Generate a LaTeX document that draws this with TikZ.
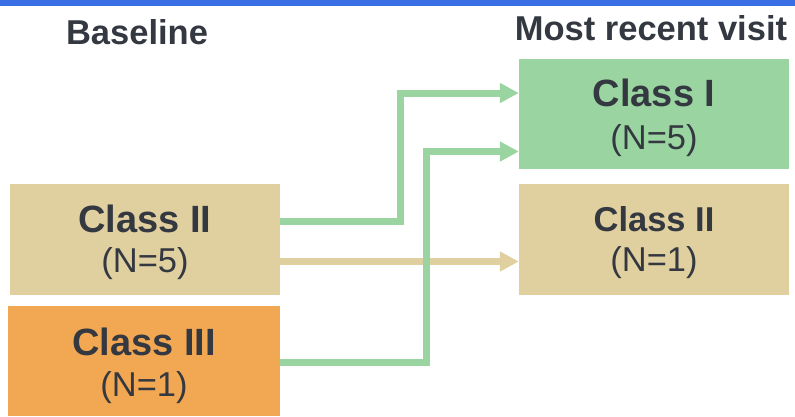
\documentclass[tikz,border=0pt]{standalone}
\usepackage{fontspec}
\setmainfont{Liberation Sans}
\usetikzlibrary{arrows.meta}
\definecolor{topblue}{RGB}{58,110,228}
\definecolor{boxgreen}{RGB}{154,212,160}
\definecolor{boxtan}{RGB}{224,208,160}
\definecolor{boxorange}{RGB}{242,168,82}
\definecolor{txt}{RGB}{52,56,64}
\tikzset{
  box/.style={draw=none, minimum width=270pt, inner sep=0pt},
  head/.style={text=txt, font=\fontsize{34.5}{40}\selectfont\bfseries, inner sep=0pt},
  big/.style={text=txt, font=\fontsize{38}{44}\selectfont\bfseries, inner sep=0pt},
  mid/.style={text=txt, font=\fontsize{34.5}{40}\selectfont\bfseries, inner sep=0pt},
  num/.style={text=txt, font=\fontsize{34.5}{40}\selectfont, inner sep=0pt},
  flow/.style={line width=7pt, -{Triangle[length=19pt,width=19pt]}},
}
\begin{document}
\begin{tikzpicture}[x=1pt,y=-1pt]
\useasboundingbox (0,0) rectangle (795,416);
\fill[topblue] (0,0) rectangle (795,5.7);
\node[head] (hb) at (137,32) {Baseline};
\node[head] (hm) at (651,28) {Most recent visit};
% left boxes
\node[box, fill=boxtan, minimum width=270pt, minimum height=111pt] (L2) at (145,239.5) {};
\node[box, fill=boxorange, minimum width=272pt, minimum height=110pt] (L3) at (144,361) {};
% right boxes
\node[box, fill=boxgreen, minimum width=270pt, minimum height=110pt] (R1) at (654,114) {};
\node[box, fill=boxtan, minimum width=270pt, minimum height=111pt] (R2) at (654,239.5) {};
% texts
\node[big] (t2) at (145,219) {Class II};
\node[num] (n2) at (145,264) {(N=5)};
\node[big] (t3) at (144,342) {Class III};
\node[num] (n3) at (144,388) {(N=1)};
\node[big] (t1) at (654,93) {Class I};
\node[num] (n1) at (654,141) {(N=5)};
\node[mid] (t4) at (654,219) {Class II};
\node[num] (n4) at (654,263) {(N=1)};
% connectors
\draw[flow, boxgreen] (L2.east |- 0,221) -- (400,221) -- (400,93) -- (R1.west |- 0,93);
\draw[flow, boxtan] (L2.east |- 0,261.5) -- (R2.west |- 0,261.5);
\draw[flow, boxgreen] (L3.east |- 0,362.5) -- (426,362.5) -- (426,151.5) -- (R1.west |- 0,151.5);
\end{tikzpicture}
\end{document}
